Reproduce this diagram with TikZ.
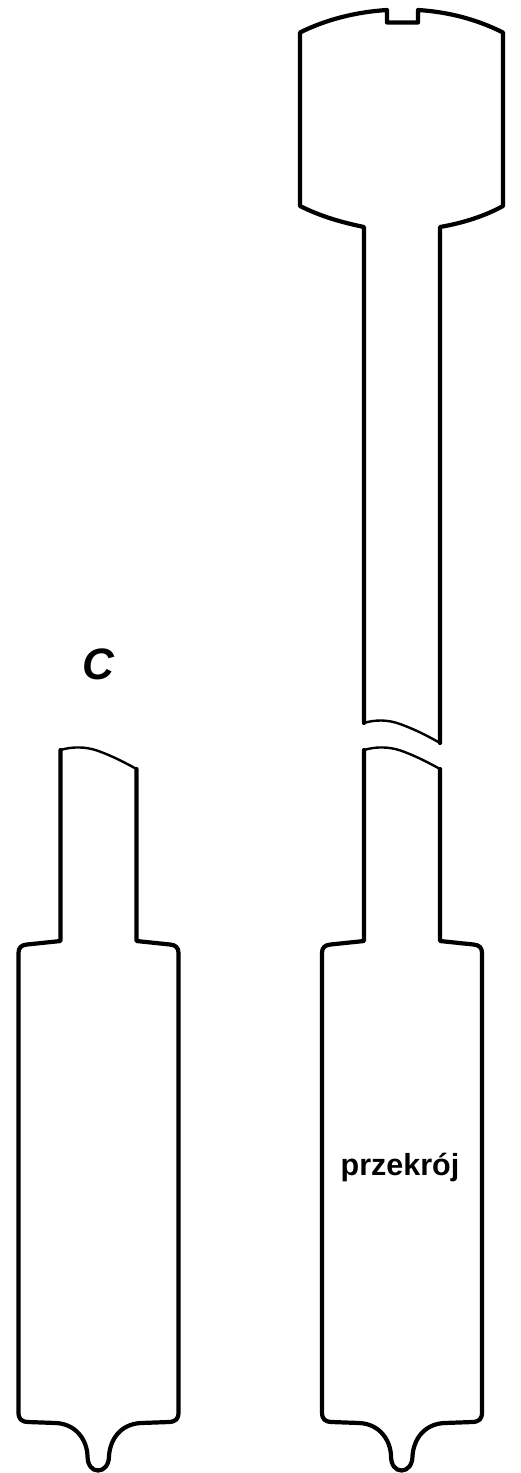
\documentclass[tikz,border=0pt]{standalone}
\usepackage{fontspec}
\setmainfont{Liberation Sans}
\tikzset{
  outline/.style={draw=black,line width=4.2pt,line join=round,line cap=round},
  breakline/.style={draw=black,line width=2.4pt,line cap=round},
  lbl/.style={inner sep=0pt,font=\bfseries,text=black}
}
\newcommand{\lowerbody}{%
  (60.5,750) -- (60.5,941)
  -- (27,944.5) .. controls (21,945) and (18.5,948) .. (18.5,953)
  -- (18.5,1412) .. controls (18.5,1419) and (21,1421.5) .. (28,1422)
  -- (56,1423) .. controls (76,1424) and (87,1440) .. (87.5,1456)
  .. controls (87.5,1465) and (92,1470.5) .. (98,1470.5)
  .. controls (104,1470.5) and (109,1465) .. (109,1456)
  .. controls (110,1440) and (120,1424) .. (141,1423)
  -- (169,1422) .. controls (176,1421.5) and (178.5,1419) .. (178.5,1412)
  -- (178.5,953) .. controls (178.5,948) and (176,945) .. (170,944.5)
  -- (136.5,941) -- (136.5,769)}
\newcommand{\lowerbreak}{%
  (60.5,750) .. controls (72,746.5) and (85,746.5) .. (97,750.5)
  .. controls (110,755) and (124,762) .. (136.5,769)}
\begin{document}
\begin{tikzpicture}[x=1pt,y=-1pt]
\useasboundingbox (0,0) rectangle (520,1473);
% upper part of the right bar
\draw[outline] (364,723) -- (364,227)
  .. controls (340,222) and (320,216) .. (300,206)
  -- (300,32.5)
  .. controls (325,20) and (355,12) .. (387,10)
  -- (387,22.5) -- (418,22.5) -- (418,10)
  .. controls (450,12) and (478,20) .. (503,32.5)
  -- (503,206)
  .. controls (485,216) and (463,223) .. (440,227)
  -- (440,743);
\draw[breakline] (364,723) .. controls (375,719.5) and (388,719.5) .. (400,724)
  .. controls (414,729) and (428,736) .. (440,743);
% left bar
\draw[outline] \lowerbody;
\draw[breakline] \lowerbreak;
% lower part of the right bar
\begin{scope}[xshift=303.5pt]
\draw[outline] \lowerbody;
\draw[breakline] \lowerbreak;
\end{scope}
\node[lbl,font=\bfseries\itshape\fontsize{44}{44}\selectfont] (c) at (98,664.5) {C};
\node[lbl,font=\bfseries\fontsize{30.5}{30.5}\selectfont] (s) at (400,1167) {przekrój};
\end{tikzpicture}
\end{document}
